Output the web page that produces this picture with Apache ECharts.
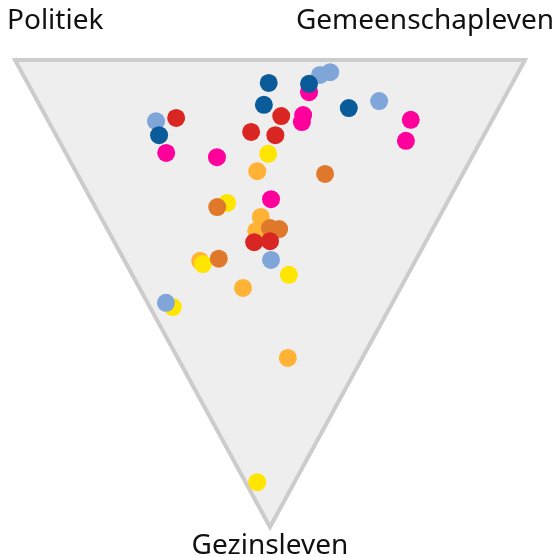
<!DOCTYPE html>
<html>
<head>
<meta charset="utf-8">
<script src="https://cdn.jsdelivr.net/npm/echarts@6/dist/echarts.min.js"></script>
<style>
  html, body { margin: 0; padding: 0; background: #fff; }
  #chart { width: 560px; height: 558px; }
</style>
</head>
<body>
<div id="chart"></div>
<script>
// hoek-labels van de driehoek
const corners = ['Politiek', 'Gemeenschapleven', 'Gezinsleven'];

// ternaire waarden per groep: [politiek, gemeenschapleven, gezinsleven]
const orange = [[0.406, 0.356, 0.238], [0.350, 0.314, 0.336], [0.344, 0.290, 0.366], [0.422, 0.148, 0.430], [0.309, 0.203, 0.488], [0.146, 0.216, 0.638]];
const yellow = [[0.403, 0.396, 0.201], [0.431, 0.263, 0.306], [0.413, 0.150, 0.437], [0.233, 0.307, 0.460], [0.426, 0.045, 0.529], [0.073, 0.023, 0.904]];
const darkOrange = [[0.270, 0.486, 0.244], [0.446, 0.239, 0.315], [0.320, 0.320, 0.360], [0.301, 0.337, 0.362], [0.390, 0.188, 0.428]];
const red = [[0.622, 0.254, 0.124], [0.418, 0.462, 0.120], [0.460, 0.386, 0.154], [0.409, 0.430, 0.161], [0.336, 0.274, 0.390], [0.306, 0.306, 0.388]];
const magenta = [[0.604, 0.197, 0.199], [0.500, 0.292, 0.208], [0.389, 0.542, 0.069], [0.376, 0.506, 0.118], [0.371, 0.496, 0.133], [0.160, 0.712, 0.128], [0.147, 0.680, 0.173], [0.349, 0.353, 0.298]];
const lightBlue = [[0.658, 0.211, 0.131], [0.386, 0.582, 0.032], [0.369, 0.605, 0.026], [0.242, 0.670, 0.088], [0.284, 0.288, 0.428], [0.444, 0.036, 0.520]];
const darkBlue = [[0.478, 0.473, 0.049], [0.464, 0.440, 0.096], [0.637, 0.202, 0.161], [0.398, 0.551, 0.051], [0.294, 0.603, 0.103]];

const groups = [
  { data: orange, color: '#ffb233' },
  { data: yellow, color: '#ffe500' },
  { data: darkOrange, color: '#e0782c' },
  { data: red, color: '#d92622' },
  { data: magenta, color: '#ff009c' },
  { data: lightBlue, color: '#7fa5d9' },
  { data: darkBlue, color: '#0a5b99' }
];

// ternair -> x/y (Politiek linksboven, Gemeenschapleven rechtsboven, Gezinsleven onder)
function toXY(t) {
  const sum = t[0] + t[1] + t[2];
  const b = t[1] / sum, c = t[2] / sum;
  return [b + 0.5 * c, 1 - c];
}

const triangle = [[1, 0, 0], [0, 1, 0], [0, 0, 1]].map(toXY);

const chart = echarts.init(document.getElementById('chart'));

const series = [{
  type: 'custom',
  silent: true,
  data: [0],
  renderItem: function (params, api) {
    return {
      type: 'polygon',
      shape: { points: triangle.map(p => api.coord(p)) },
      style: { fill: '#eeeeee', stroke: '#cccccc', lineWidth: 4, lineJoin: 'miter' }
    };
  },
  z: 1
}];

groups.forEach(function (g, i) {
  series.push({
    type: 'scatter',
    data: g.data.map(toXY),
    symbolSize: 18,
    itemStyle: { color: g.color, opacity: 1 },
    z: 2 + i
  });
});

const labelFont = '28px "Noto Sans"';

chart.setOption({
  animation: false,
  grid: { left: 15, right: 35, top: 60, bottom: 31 },
  xAxis: { type: 'value', min: 0, max: 1, show: false },
  yAxis: { type: 'value', min: 0, max: 1, show: false },
  graphic: [
    { type: 'text', left: 7, top: 7, style: { text: corners[0], font: labelFont, fill: '#111' } },
    { type: 'text', right: 6, top: 7, style: { text: corners[1], font: labelFont, fill: '#111' } },
    { type: 'text', x: 270, y: 560, style: { text: corners[2], font: labelFont, fill: '#111', align: 'center', verticalAlign: 'bottom' } }
  ],
  series: series
});
</script>
</body>
</html>
